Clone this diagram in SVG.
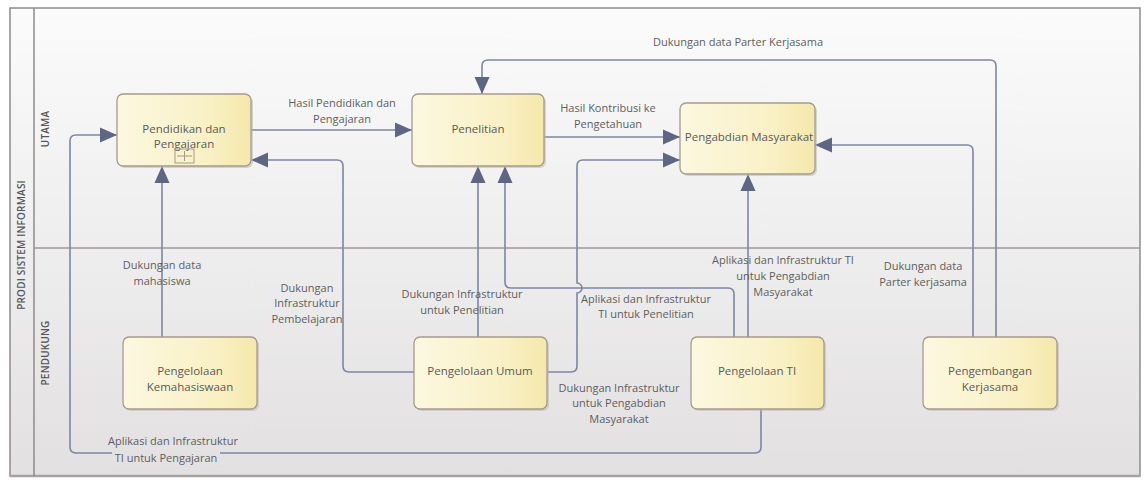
<svg xmlns="http://www.w3.org/2000/svg" width="1148" height="482" viewBox="0 0 1148 482">
  <defs>
    <linearGradient id="poolBg" x1="0" y1="0" x2="0" y2="1">
      <stop offset="0" stop-color="#fbfbfb"/>
      <stop offset="0.5" stop-color="#efeeee"/>
      <stop offset="1" stop-color="#e2e0e0"/>
    </linearGradient>
    <linearGradient id="taskFill" x1="0" y1="0" x2="1" y2="0">
      <stop offset="0" stop-color="#fcf8e0"/>
      <stop offset="0.7" stop-color="#f9f0c4"/>
      <stop offset="1" stop-color="#f4e8aa"/>
    </linearGradient>
    <marker id="arrow" markerUnits="userSpaceOnUse" markerWidth="18" markerHeight="16" refX="17" refY="8" orient="auto">
      <path d="M0,0.5 L17,8 L0,15.5 z" fill="#5d6784"/>
    </marker>
    <style>
      .frame { fill: none; stroke: #918b8b; stroke-width: 1.5; }
      .lane { stroke: #a39898; stroke-width: 1.5; }
      .task { fill: url(#taskFill); stroke: #a59a8e; stroke-width: 1.3; }
      .shadow { fill: #bdb8b2; opacity: 0.55; }
      .flow { fill: none; stroke: #7d86a2; stroke-width: 1.6; marker-end: url(#arrow); }
      .label { font-family: "Open Sans", "Noto Sans", sans-serif; font-size: 11px; fill: #5e5e5e; text-anchor: middle; }
      .name { font-family: "Open Sans", "Noto Sans", sans-serif; font-size: 11.5px; fill: #5a5a5a; text-anchor: middle; }
      .pool { font-family: "Open Sans", "Noto Sans", sans-serif; font-size: 10px; font-weight: 600; fill: #555; text-anchor: middle; letter-spacing: 0.2px; }
    </style>
  </defs>

  <!-- pool and lanes -->
  <g id="pool">
    <rect x="10" y="8" width="1130" height="468" fill="url(#poolBg)"/>
    <rect class="frame" x="10" y="8" width="1130" height="468"/>
    <line x1="10" y1="476" x2="1140" y2="476" stroke="#a7a2a2" stroke-width="2.5"/>
    <line class="frame" x1="34" y1="8" x2="34" y2="476"/>
    <line class="lane" x1="34" y1="248" x2="1140" y2="248"/>
    <text class="pool" transform="translate(25,245) rotate(-90)">PRODI SISTEM INFORMASI</text>
    <text class="pool" transform="translate(49,129) rotate(-90)">UTAMA</text>
    <text class="pool" transform="translate(49,353) rotate(-90)">PENDUKUNG</text>
  </g>

  <!-- connectors -->
  <g id="connectors">
    <path class="flow" d="M251,130 H412"/>
    <path class="flow" d="M544,137 H680"/>
    <path class="flow" d="M973,337 V151 Q973,145 967,145 H815"/>
    <path class="flow" d="M162,337 V166"/>
    <path class="flow" d="M414,372 H349 Q343,372 343,366 V166 Q343,160 337,160 H251"/>
    <path class="flow" d="M478,337 V166"/>
    <path class="flow" d="M734,337 V294 Q734,288 728,288 H511 Q505,288 505,282 V166"/>
    <path class="flow" d="M547,372 H571 Q577,372 577,366 V293 A5,5 0 0 0 577,283 V166 Q577,160 583,160 H680"/>
    <path class="flow" d="M748,337 V174"/>
    <path class="flow" d="M996,337 V66 Q996,60 990,60 H488 Q482,60 482,66 V94"/>
    <path class="flow" d="M761,409 V447 Q761,453 755,453 H76 Q70,453 70,447 V141 Q70,135 76,135 H117"/>
  </g>

  <!-- connector labels -->
  <g id="labels">
    <text class="label" x="342" y="107">Hasil Pendidikan dan</text>
    <text class="label" x="342" y="123">Pengajaran</text>
    <text class="label" x="608" y="112">Hasil Kontribusi ke</text>
    <text class="label" x="608" y="128">Pengetahuan</text>
    <text class="label" x="738" y="46">Dukungan data Parter Kerjasama</text>
    <text class="label" x="162" y="269">Dukungan data</text>
    <text class="label" x="162" y="285">mahasiswa</text>
    <text class="label" x="307" y="292">Dukungan</text>
    <text class="label" x="307" y="307">Infrastruktur</text>
    <text class="label" x="307" y="323">Pembelajaran</text>
    <text class="label" x="462" y="298">Dukungan Infrastruktur</text>
    <text class="label" x="462" y="314">untuk Penelitian</text>
    <text class="label" x="646" y="303">Aplikasi dan Infrastruktur</text>
    <text class="label" x="646" y="318">TI untuk Penelitian</text>
    <text class="label" x="783" y="264">Aplikasi dan Infrastruktur TI</text>
    <text class="label" x="783" y="280">untuk Pengabdian</text>
    <text class="label" x="783" y="296">Masyarakat</text>
    <text class="label" x="923" y="270">Dukungan data</text>
    <text class="label" x="923" y="286">Parter kerjasama</text>
    <text class="label" x="619" y="392">Dukungan Infrastruktur</text>
    <text class="label" x="619" y="407">untuk Pengabdian</text>
    <text class="label" x="619" y="423">Masyarakat</text>
    <text class="label" x="173" y="445">Aplikasi dan Infrastruktur</text>
    <rect x="112" y="451" width="108" height="14" fill="#e3e1e1"/>
    <text class="label" x="166" y="462">TI untuk Pengajaran</text>
  </g>

  <!-- tasks -->
  <g id="pendidikan">
    <rect class="shadow" x="119" y="96" width="134" height="72" rx="6"/>
    <rect class="task" x="117" y="94" width="134" height="72" rx="6"/>
    <text class="name" x="184" y="133">Pendidikan dan</text>
    <text class="name" x="184" y="148">Pengajaran</text>
    <rect x="175" y="149" width="19" height="14" fill="none" stroke="#a59a8e" stroke-width="1"/>
    <path d="M184.5,151 V161 M177,156 H192" stroke="#a59a8e" stroke-width="1"/>
  </g>
  <g id="penelitian">
    <rect class="shadow" x="414" y="96" width="132" height="72" rx="6"/>
    <rect class="task" x="412" y="94" width="132" height="72" rx="6"/>
    <text class="name" x="478" y="133">Penelitian</text>
  </g>
  <g id="pengabdian">
    <rect class="shadow" x="682" y="105" width="135" height="71" rx="6"/>
    <rect class="task" x="680" y="103" width="135" height="71" rx="6"/>
    <text class="name" x="749" y="141">Pengabdian Masyarakat</text>
  </g>
  <g id="kemahasiswaan">
    <rect class="shadow" x="125" y="339" width="134" height="72" rx="6"/>
    <rect class="task" x="123" y="337" width="134" height="72" rx="6"/>
    <text class="name" x="190" y="375">Pengelolaan</text>
    <text class="name" x="190" y="391">Kemahasiswaan</text>
  </g>
  <g id="umum">
    <rect class="shadow" x="416" y="339" width="133" height="72" rx="6"/>
    <rect class="task" x="414" y="337" width="133" height="72" rx="6"/>
    <text class="name" x="480" y="375">Pengelolaan Umum</text>
  </g>
  <g id="pengelolaan-ti">
    <rect class="shadow" x="693" y="339" width="133" height="72" rx="6"/>
    <rect class="task" x="691" y="337" width="133" height="72" rx="6"/>
    <text class="name" x="757" y="375">Pengelolaan TI</text>
  </g>
  <g id="kerjasama">
    <rect class="shadow" x="925" y="339" width="134" height="72" rx="6"/>
    <rect class="task" x="923" y="337" width="134" height="72" rx="6"/>
    <text class="name" x="990" y="375">Pengembangan</text>
    <text class="name" x="990" y="391">Kerjasama</text>
  </g>
</svg>
